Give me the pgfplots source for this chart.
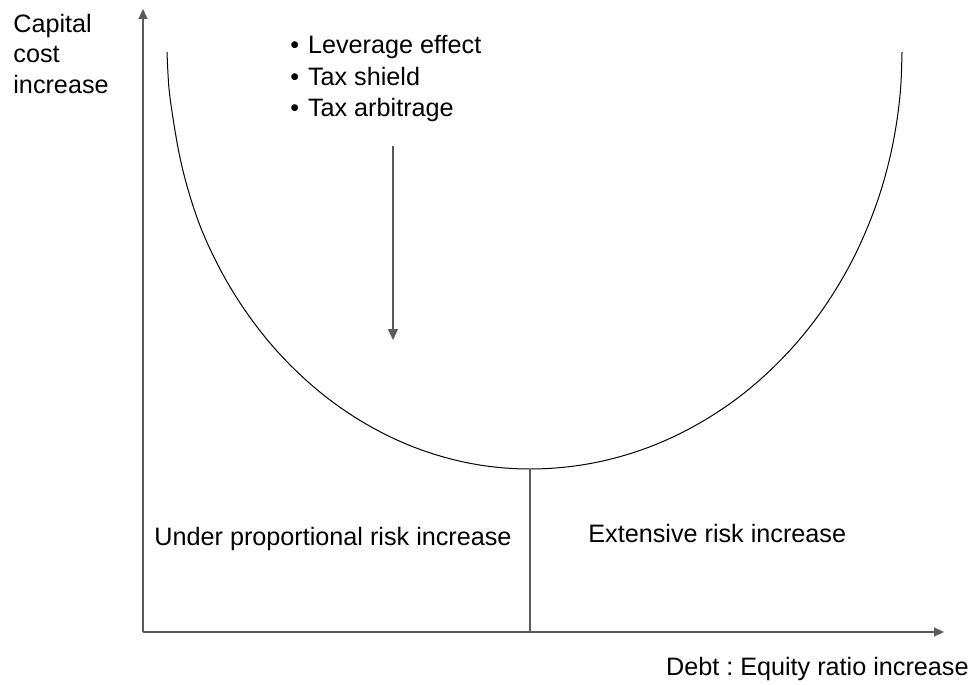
\documentclass[border=0pt]{standalone}
\usepackage{pgfplots}
\pgfplotsset{compat=1.18}
\usepackage{fontspec}
\setmainfont{Liberation Sans}
\usetikzlibrary{arrows.meta}
\definecolor{axgray}{RGB}{90,90,90}
\begin{document}
\frenchspacing
\fontsize{12.6}{15}\selectfont
\begin{tikzpicture}
\begin{axis}[
  width=486pt, height=342pt, scale only axis,
  xmin=0, xmax=972, ymin=0, ymax=684, y dir=reverse,
  axis lines=none, clip=false,
]
\path[use as bounding box] (axis cs:0,0) rectangle (axis cs:972,684);
% axes
\draw[axgray, line width=0.55pt, -{Triangle[length=5pt,width=4.5pt]}] (axis cs:143,632) -- (axis cs:143,9);
\draw[axgray, line width=0.55pt, -{Triangle[length=5pt,width=4.5pt]}] (axis cs:143,632) -- (axis cs:944,632);
% U-shaped capital cost curve
\addplot[black, line width=0.5pt, smooth, tension=0.6] coordinates {
(167,52) (169,88.4) (174,124.4) (180.5,160) (189.5,194.6) (201,228.2)
(215.6,260.5) (232.6,291.2) (251.9,320) (273.3,346.9) (296.7,371.4)
(321.8,393.6) (348.5,413.1) (376.6,429.9) (405.9,443.9) (436.1,454.8)
(467,462.7) (498.3,467.4) (530,469)
(562.4,467.4) (594.6,462.7) (626.3,454.8) (657.2,443.9) (687.2,429.9)
(716,413.1) (743.4,393.6) (769.1,371.4) (793,346.9) (815,320)
(834.7,291.2) (852.2,260.5) (867.1,228.2) (879.6,194.6) (889.3,160)
(896.3,124.4) (900.6,88.4) (902,52)
};
% vertical divider at the minimum
\addplot[axgray, line width=0.55pt] coordinates {(530,469) (530,632)};
% downward arrow
\draw[axgray, line width=0.55pt, -{Triangle[length=5.5pt,width=5pt]}] (axis cs:393,146) -- (axis cs:393,340);
% labels
\node[anchor=base west, inner sep=0pt] at (axis cs:13,33) {Capital};
\node[anchor=base west, inner sep=0pt] at (axis cs:13,63) {cost};
\node[anchor=base west, inner sep=0pt] at (axis cs:13,94) {increase};
\node[anchor=base west, inner sep=0pt] at (axis cs:290,54) {•\hspace{0.35em}Leverage effect};
\node[anchor=base west, inner sep=0pt] at (axis cs:290,86) {•\hspace{0.35em}Tax shield};
\node[anchor=base west, inner sep=0pt] at (axis cs:290,117) {•\hspace{0.35em}Tax arbitrage};
\node[anchor=base west, inner sep=0pt] at (axis cs:154,545) {Under proportional risk increase};
\node[anchor=base west, inner sep=0pt] at (axis cs:588,542) {Extensive risk increase};
\node[anchor=base east, inner sep=0pt] at (axis cs:969,675) {Debt : Equity ratio increase};
\end{axis}
\end{tikzpicture}
\end{document}
